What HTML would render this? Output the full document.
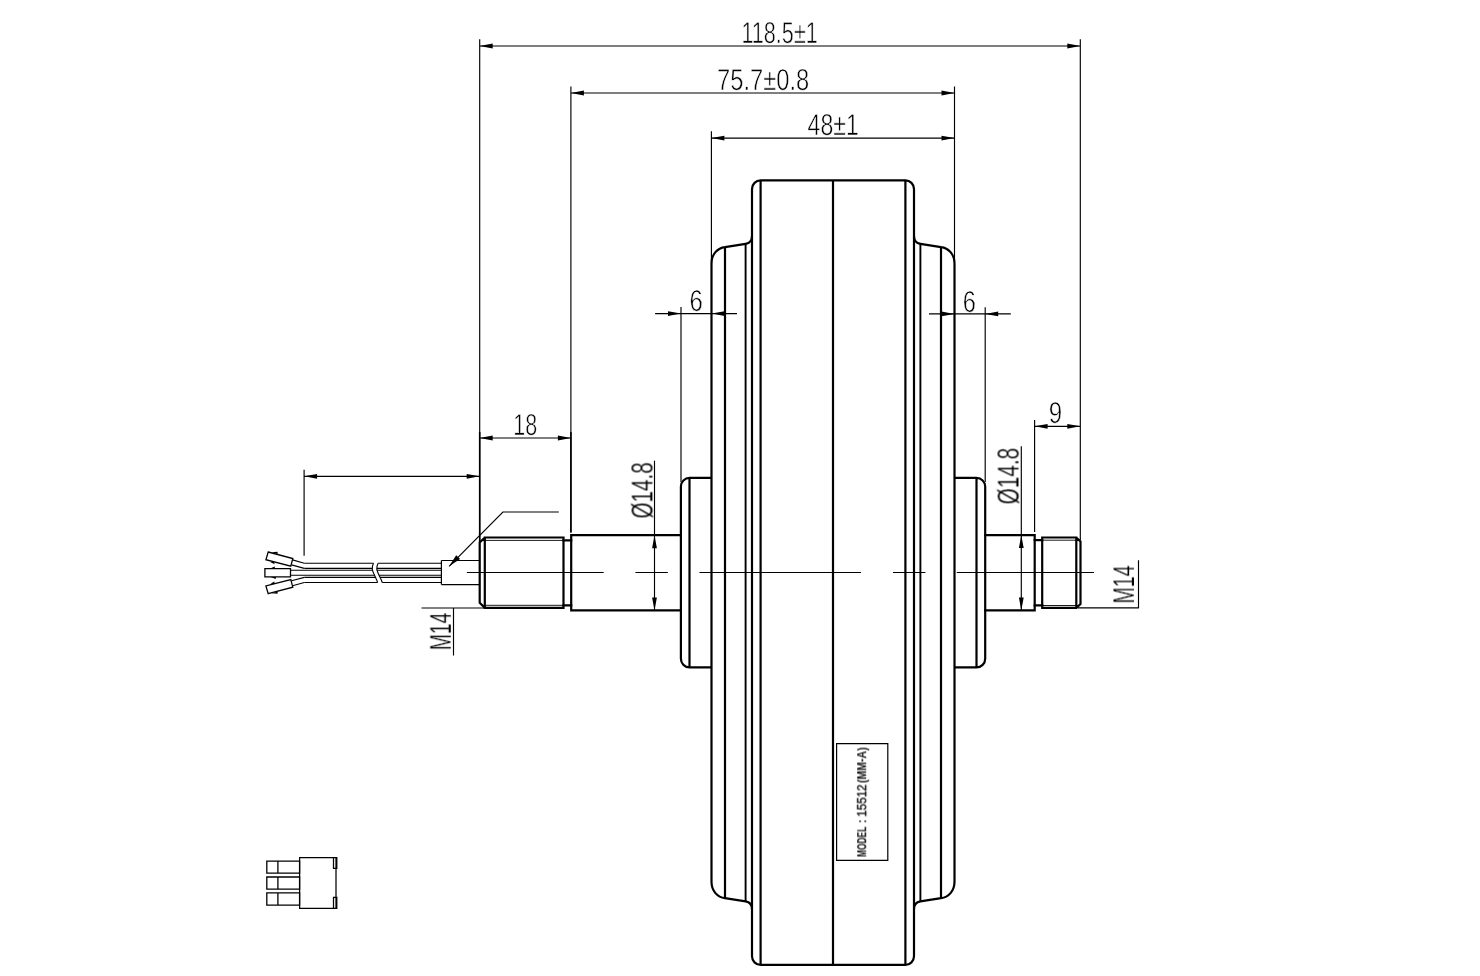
<!DOCTYPE html>
<html>
<head>
<meta charset="utf-8">
<title>Hub motor drawing</title>
<style>
html,body{margin:0;padding:0;background:#fff;}
body{width:1480px;height:976px;overflow:hidden;font-family:"Liberation Sans",sans-serif;}
svg{display:block;position:absolute;left:0;top:0;}
.tx{text-rendering:geometricPrecision;font-family:"Liberation Sans",sans-serif;font-size:30.2px;fill:#000;stroke:#fff;stroke-width:0.6px;}
.lb{font-family:"Liberation Sans",sans-serif;font-size:12.6px;font-weight:bold;fill:#111;}
.r{stroke-width:0.25px;}
.dg{font-weight:normal;stroke:#111;stroke-width:0.35px;}
.k{stroke:#000;stroke-width:2.2;fill:none;stroke-linecap:butt;stroke-linejoin:round;}
.j{stroke-linejoin:miter;stroke-linecap:square;}
.m{stroke:#000;stroke-width:1.6;fill:none;}
.t{stroke:#000;stroke-width:1.15;fill:none;}
.a{fill:#000;stroke:none;}
</style>
</head>
<body>
<svg width="1480" height="976" viewBox="0 0 1480 976">
<rect x="0" y="0" width="1480" height="976" fill="#fff"/>

<!-- TEXT (drawn first so white erosion stroke does not cover lines) -->
<g id="texts" style="opacity:0.999">
<text class="tx" x="741.4" y="43.2" textLength="76.4" lengthAdjust="spacingAndGlyphs">118.5±1</text>
<text class="tx" x="717" y="90.3" textLength="92.2" lengthAdjust="spacingAndGlyphs">75.7±0.8</text>
<text class="tx" x="807.6" y="135.4" textLength="51.2" lengthAdjust="spacingAndGlyphs">48±1</text>
<text class="tx" x="689.5" y="310.6" textLength="13.3" lengthAdjust="spacingAndGlyphs">6</text>
<text class="tx" x="962.8" y="311.6" textLength="13.1" lengthAdjust="spacingAndGlyphs">6</text>
<text class="tx" x="513.3" y="435" textLength="23.9" lengthAdjust="spacingAndGlyphs">18</text>
<text class="tx" x="1048.7" y="422.8" textLength="13.4" lengthAdjust="spacingAndGlyphs">9</text>
<text class="tx r" transform="translate(652.4 518.5) rotate(-90)" textLength="56.2" lengthAdjust="spacingAndGlyphs">Ø14.8</text>
<text class="tx r" transform="translate(1018.5 504.4) rotate(-90)" textLength="56.5" lengthAdjust="spacingAndGlyphs">Ø14.8</text>
<text class="tx r" transform="translate(450.8 650.2) rotate(-90)" textLength="37.6" lengthAdjust="spacingAndGlyphs">M14</text>
<text class="tx r" transform="translate(1134 603.5) rotate(-90)" textLength="38" lengthAdjust="spacingAndGlyphs">M14</text>
<text class="lb" transform="translate(866.2 856.5) rotate(-90)"><tspan x="-0.5" textLength="32.5" lengthAdjust="spacingAndGlyphs">MODEL </tspan><tspan x="33.6" textLength="6.5" lengthAdjust="spacingAndGlyphs">: </tspan><tspan class="dg" x="39.8" textLength="35.5" lengthAdjust="spacingAndGlyphs">15512 </tspan><tspan x="73.6" textLength="35.6" lengthAdjust="spacingAndGlyphs">(MM-A)</tspan></text>
</g>

<!-- DIMENSION / THIN LINES -->
<g id="dims">
<!-- 118.5 -->
<path class="t" d="M479.7 39.3V542 M1080.3 39.3V540 M479.7 46H1080.3"/>
<path class="a" d="M479.7 46l13 -2.4v4.8z M1080.3 46l-13 -2.4v4.8z"/>
<!-- 75.7 -->
<path class="t" d="M570.9 86.4V532.5 M954.5 86.4V262 M570.9 93H954.5"/>
<path class="a" d="M570.9 93l13 -2.4v4.8z M954.5 93l-13 -2.4v4.8z"/>
<!-- 48 -->
<path class="t" d="M711.4 131.3V262 M711.4 138.1H954.5"/>
<path class="a" d="M711.4 138.1l13 -2.4v4.8z M954.5 138.1l-13 -2.4v4.8z"/>
<!-- 6 left -->
<path class="t" d="M655.1 313.6H737 M681 306.9V482"/>
<path class="a" d="M681 313.6l-13 -2.4v4.8z M711.6 313.6l13 -2.4v4.8z"/>
<!-- 6 right -->
<path class="t" d="M929 313.9H1010.8 M985.2 307.3V482"/>
<path class="a" d="M954.5 313.9l-13 -2.4v4.8z M985.2 313.9l13 -2.4v4.8z"/>
<!-- 18 -->
<path class="t" d="M479.7 438H570.9"/>
<path class="m" d="M479.7 432V542 M570.9 432V532.5"/>
<path class="a" d="M479.7 438l13 -2.4v4.8z M570.9 438l-13 -2.4v4.8z"/>
<!-- 9 -->
<path class="t" d="M1034.6 419.9V532 M1034.6 426.3H1080.3"/>
<path class="a" d="M1034.6 426.3l13 -2.4v4.8z M1080.3 426.3l-13 -2.4v4.8z"/>
<!-- wire length -->
<path class="t" d="M304.1 469.7V555.8 M304.1 476.3H479.7"/>
<path class="a" d="M304.1 476.3l13 -2.4v4.8z M479.7 476.3l-13 -2.4v4.8z"/>
<!-- leader -->
<path class="t" d="M558.8 512H502.9L449.1 566.3"/>
<path class="a" d="M449.1 566.3l7.1 -11.1l3.9 3.8z"/>
<!-- dia 14.8 left -->
<path class="t" d="M654.5 460.6V610.4"/>
<path class="a" d="M654.5 535.2l-2.4 13h4.8z M654.5 610.4l-2.4 -13h4.8z"/>
<!-- dia 14.8 right -->
<path class="t" d="M1021.3 446.3V610.4"/>
<path class="a" d="M1021.3 535.1l-2.4 13h4.8z M1021.3 610.4l-2.4 -13h4.8z"/>
<!-- M14 left -->
<path class="t" d="M421.5 608H485 M453.5 608V655.6"/>
<!-- M14 right -->
<path class="t" d="M1078 607.9H1138.9 M1138.5 560.2V607.9"/>
<!-- centre line -->
<path class="t" d="M466.9 572.5H603.7 M635.4 572.5H667.8 M699.5 572.5H861 M893 572.5H925.4 M956.8 572.5H1094"/>
</g>

<!-- WIRES -->
<g id="wires">
<path class="m" d="M441.4 560.5H479.5 M441.4 584.6H479.5 M441.4 560.5V584.6" style="stroke-width:1.2"/>
<!-- right of break -->
<path class="m" d="M378.1 563.3H441.4 M376.7 568.4H441.4 M376.6 570.2H441.4 M379 575.3H441.4 M380 577.4H441.4 M382.2 582.5H441.4" style="stroke-width:1.1"/>
<!-- left of break -->
<path class="m" d="M304.3 563.3H373.5 M304.3 568.4H372.2 M290.5 570.2H372.1 M290.5 575.3H374.5 M304.3 577.4H375.5 M304.3 582.5H377.6" style="stroke-width:1.1"/>
<!-- break curves -->
<path class="m" d="M373.5 563.3C371 568 372.5 571 374.5 575.3C376 578.5 377 580 377.6 582.5 M378.1 563.3C375.6 568 377.1 571 379 575.3C380.6 578.5 381.6 580 382.2 582.5" style="stroke-width:1.1"/>
<!-- fan-out -->
<path class="m" d="M304.3 563.3L292.5 559.9 M304.3 568.4L291.5 564.9 M304.3 582.5L292.5 585.8 M304.3 577.4L291.5 580.7" style="stroke-width:1.1"/>
<!-- terminals -->
<path class="m" d="M268.2 552L292.8 558.5L290.8 566.1L265.9 559.7Z M268.2 593.6L292.8 587.2L290.8 579.5L265.9 585.9Z M264.9 568.7H290.5V576.9H264.9Z" style="stroke-width:1.3"/>
<!-- barbs -->
<path d="M271.5 552.3l6 -0.6l0.3 2.3z M270.5 562.3l4.2 1.9l-0.8 -2.8z M269.5 568.7l5.2 -2.1l0.3 2.1z M270.5 576.9l5.2 2.1l0.3 -2.1z M270.5 583.5l4.2 -2l-0.6 2.8z M271.5 593.3l6 0.5l0.3 -2.3z" fill="#000"/>
</g>

<!-- CONNECTOR -->
<g id="conn">
<path class="m" d="M299.6 857.5H336V908.4H299.6Z M333.5 857.5H336.8V868.3H333.5Z M333.5 908.4H336.8V897.4H333.5Z" style="stroke-width:1.25"/>
<path class="m" d="M266.8 861.1H299.6V873.2H266.8Z M266.8 877H299.6V889.2H266.8Z M266.8 892.9H299.6V905.2H266.8Z M277.9 861.1V873.2 M277.9 877V889.2 M277.9 892.9V905.2" style="stroke-width:1.3"/>
</g>

<!-- MAIN BODY (thick lines) -->
<g id="body">
<!-- wheel outline -->
<path class="k" d="M760.6 180.35H905.4A8.6 8.6 0 0 1 914.0 188.95V236.0C914.0 240.6 916.4 243.2 920.4 243.85L941.0 247.05C948.5 247.9 954.5 254.3 954.5 263.5V881.74C954.5 890.94 948.5 897.34 941.0 898.19L920.4 901.39C916.4 902.04 914.0 904.64 914.0 909.24V956.29A8.6 8.6 0 0 1 905.4 964.89H760.6A8.6 8.6 0 0 1 752.0 956.29V909.24C752.0 904.64 749.6 902.04 745.6 901.39L725.0 898.19C717.5 897.34 711.5 890.94 711.5 881.74V263.5C711.5 254.3 717.5 247.9 725.0 247.05L745.6 243.85C749.6 243.2 752.0 240.6 752.0 236.0V188.95A8.6 8.6 0 0 1 760.6 180.35Z"/>
<path class="k" d="M752 236V909 M914 236V909 M760.6 180.35V964.89 M905.4 180.35V964.89 M833 180.35V964.89 M725 247V898.24 M941 247V898.24"/>
<path class="m" d="M745.6 243.8V901.44 M920.4 243.8V901.44" style="stroke-width:1.9"/>
<!-- bosses -->
<path class="k" d="M711.5 477.9H689.5A8.6 8.6 0 0 0 680.9 486.5V658.8A8.6 8.6 0 0 0 689.5 667.4H711.5 M689.5 477.9V667.4"/>
<path class="k" d="M954.5 477.9H976.5A8.7 8.7 0 0 1 985.2 486.6V658.7A8.7 8.7 0 0 1 976.5 667.4H954.5 M976.5 477.9V667.4"/>
<!-- left shaft -->
<path class="k j" d="M680.9 535.2H571.2V610.4H680.9"/>
<path class="k j" d="M571.2 540.3H563.5 M571.2 605.3H563.5"/>
<path class="k j" d="M563.5 537.5V607.9 M563.5 537.5H484.8L479.7 542.5V602.9L484.8 607.9H563.5 M484.8 537.5V607.9"/>
<path class="t" d="M484.8 540.4H563.5 M484.8 605.3H563.5" style="stroke-width:0.9"/>
<!-- right shaft -->
<path class="k j" d="M985.2 535.1H1034.7V610.4H985.2"/>
<path class="k j" d="M1034.7 540.1H1042.2 M1034.7 605.3H1042.2"/>
<path class="k j" d="M1042.2 537.5V607.9 M1042.2 537.5H1076.3L1080.5 541.5V604L1076.3 607.9H1042.2 M1076.3 537.5V607.9"/>
<path class="t" d="M1042.2 540.2H1079 M1042.2 605.5H1079" style="stroke-width:0.9"/>
<!-- label box -->
<path class="t" d="M836.6 743.6H887.8V860.3H836.6Z" style="stroke-width:1.2"/>
</g>
</svg>
</body>
</html>
